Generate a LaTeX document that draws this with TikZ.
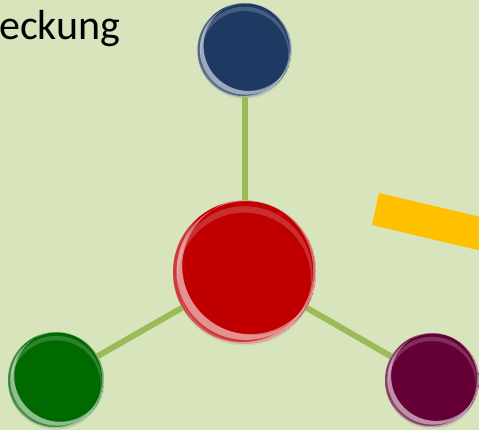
\documentclass[tikz,border=0pt]{standalone}
\usepackage{fontspec}
\setmainfont{Carlito}
\usepackage{xcolor}
\usepackage{tikz}
\usetikzlibrary{shadows}
\definecolor{PageGreen}{HTML}{D8E4BC}
\definecolor{LinkGreen}{HTML}{9BBB59}
\definecolor{ArrowGold}{HTML}{FFC000}
\definecolor{BallBlue}{HTML}{1E3A62}
\definecolor{BallRed}{HTML}{C00000}
\definecolor{BallGreen}{HTML}{006A00}
\definecolor{BallPurple}{HTML}{650036}
\tikzset{
  MyBall/.style={
    circle, inner sep=0pt, minimum size={2*#1*1pt},
    drop shadow={opacity=0.15, shadow xshift=0pt, shadow yshift=-2pt},
    path picture={
      % bottom left gloss
      \fill[white, opacity=0.22, even odd rule]
        (path picture bounding box.center) circle[radius={#1*1pt}]
        ([shift={({0.12*#1pt},{0.12*#1pt})}]path picture bounding box.center) circle[radius={#1*1pt}];
      \fill[white, opacity=0.45, even odd rule]
        ([shift={({0.02*#1pt},{0.02*#1pt})}]path picture bounding box.center) circle[radius={0.97*#1pt}]
        ([shift={({0.08*#1pt},{0.08*#1pt})}]path picture bounding box.center) circle[radius={0.95*#1pt}];
      % top gloss
      \fill[white, opacity=0.18, even odd rule]
        ([shift={(0pt,{-0.03*#1pt})}]path picture bounding box.center) circle[radius={0.95*#1pt}]
        ([shift={(0pt,{-0.1*#1pt})}]path picture bounding box.center) circle[radius={0.93*#1pt}];
      % right rim
      \fill[white, opacity=0.4, even odd rule]
        (path picture bounding box.center) circle[radius={#1*1pt}]
        ([shift={({-0.04*#1pt},{0.02*#1pt})}]path picture bounding box.center) circle[radius={#1*1pt}];
    },
  },
  MyLink/.style={line width=6pt, draw=LinkGreen},
}
\begin{document}
\begin{tikzpicture}[x=1pt, y=1pt]
\clip (0,0) rectangle (479,430);
\fill[PageGreen] (0,0) rectangle (479,430);
% title text, cut at the left edge
\node[anchor=base west, inner sep=0pt, font=\fontsize{42}{50}\selectfont] (Title) at (-1,390) {eckung};
% yellow arrow shaft running off to the right
\fill[ArrowGold] (379,237) -- (372,205) -- (520,170) -- (527,202) -- cycle;
% balls
\node[MyBall=71.5, fill=BallRed] (Red) at (244.5,158) {};
\node[MyBall=47, fill=BallBlue] (Blue) at (244.5,380) {};
\node[MyBall=48, fill=BallGreen] (Green) at (56,50) {};
\node[MyBall=47, fill=BallPurple] (Purple) at (432,50) {};
\draw[MyLink] (Red) -- (Blue);
\draw[MyLink] (Red) -- (Green);
\draw[MyLink] (Red) -- (Purple);
\end{tikzpicture}
\end{document}
